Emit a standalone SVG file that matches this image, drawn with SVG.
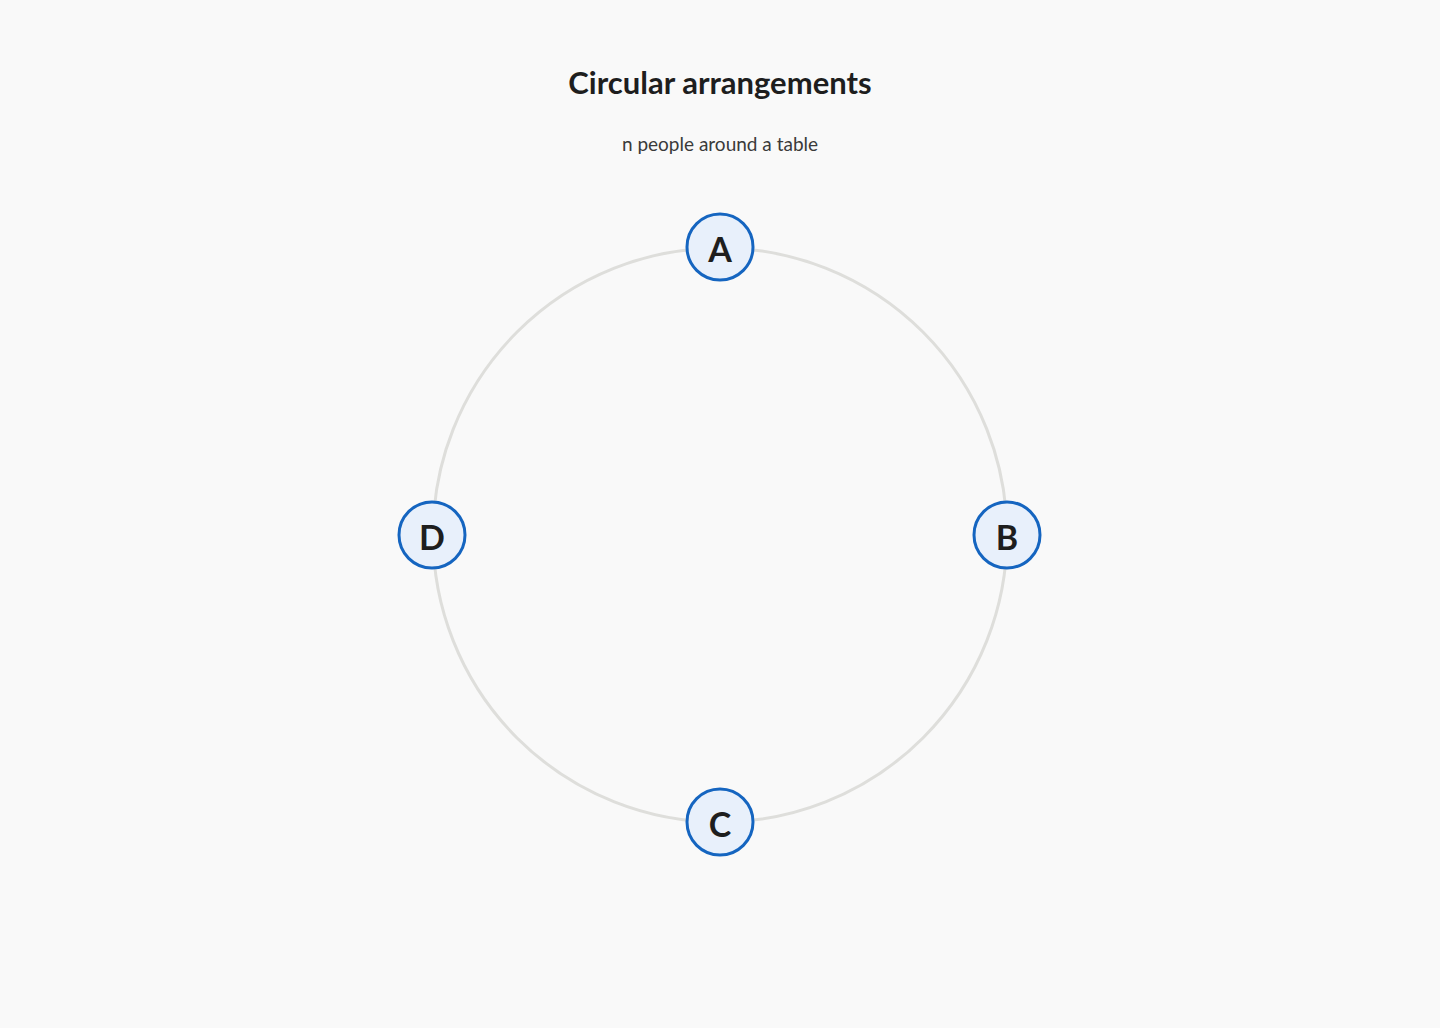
<svg xmlns="http://www.w3.org/2000/svg" width="1440" height="1028" viewBox="0 0 1440 1028">
<style>
.node circle{fill:#e8f0fb;stroke:#1565c0;stroke-width:3}
.node text{font-family:Lato,"Liberation Sans",sans-serif;font-weight:bold;font-size:34px;fill:#1e1e1e;text-anchor:middle;dominant-baseline:central}
</style>
<rect width="1440" height="1028" fill="#f9f9f9"/>
<text x="720" y="94" font-family="Lato,'Liberation Sans',sans-serif" font-weight="bold" font-size="31" fill="#1e1e1e" text-anchor="middle">Circular arrangements</text>
<text x="720" y="151" font-family="Lato,'Liberation Sans',sans-serif" font-size="19" fill="#3a3a3a" text-anchor="middle">n people around a table</text>
<g id="connectors"><circle cx="720" cy="535" r="287" fill="none" stroke="#dededb" stroke-width="3"/></g>
<g id="A" class="node"><circle cx="720" cy="247" r="33"/><text x="720" y="248">A</text></g>
<g id="B" class="node"><circle cx="1007" cy="535" r="33"/><text x="1007" y="536">B</text></g>
<g id="C" class="node"><circle cx="720" cy="822" r="33"/><text x="720" y="823">C</text></g>
<g id="D" class="node"><circle cx="432" cy="535" r="33"/><text x="432" y="536">D</text></g>
</svg>
